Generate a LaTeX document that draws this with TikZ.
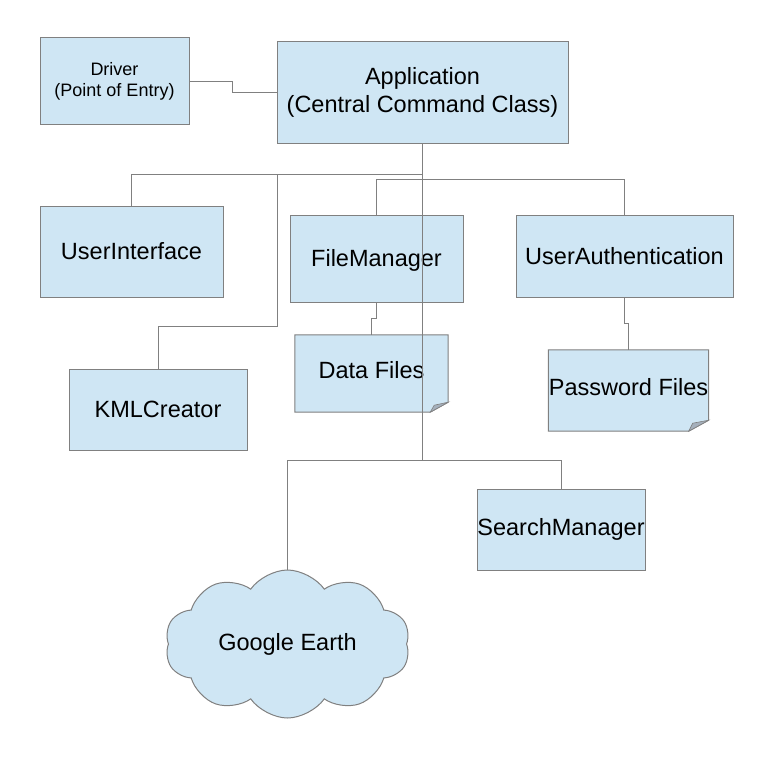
\documentclass[tikz,border=0pt]{standalone}
\usepackage{fontspec}
\setmainfont{Liberation Sans}
\usetikzlibrary{shapes.symbols,backgrounds}
\definecolor{boxfill}{RGB}{207,230,244}
\definecolor{boxline}{RGB}{128,128,128}
\definecolor{foldfill}{RGB}{165,176,188}
\tikzset{
  box/.style={draw=boxline, fill=boxfill, line width=1pt, inner sep=0pt, align=center,
    font=\fontsize{23.5pt}{28pt}\selectfont},
  notebox/.style={inner sep=0pt, align=center, font=\fontsize{23.5pt}{28pt}\selectfont},
  wire/.style={draw=boxline, line width=1pt},
  notepath/.style={draw=boxline, fill=boxfill, line width=1pt},
  foldpath/.style={draw=boxline, fill=foldfill, line width=0.6pt},
}
\begin{document}
\begin{tikzpicture}[x=1pt,y=-1pt]
\useasboundingbox (0,0) rectangle (768,768);

\node[box, minimum width=149pt, minimum height=86pt, font=\fontsize{18pt}{21pt}\selectfont] (driver) at (114.5,81) {Driver\\(Point of Entry)};
\node[box, minimum width=291pt, minimum height=101pt] (app) at (422.5,92.5) {Application\\(Central Command Class)};
\node[box, minimum width=183pt, minimum height=91pt] (ui) at (131.5,251.5) {UserInterface};
\node[box, minimum width=173pt, minimum height=87pt] (fm) at (376.5,258.5) {\raisebox{-2pt}[\height][\depth]{FileManager}};
\node[box, minimum width=217pt, minimum height=82pt] (ua) at (624.5,256) {UserAuthentication};
\node[box, minimum width=178pt, minimum height=81pt] (kml) at (158,409.5) {KMLCreator};
\node[notebox, minimum width=153pt, minimum height=77pt] (data) at (371.5,373.5) {\raisebox{3pt}[\height][\depth]{Data Files}};
\node[notebox, minimum width=160pt, minimum height=81pt] (pw) at (628.5,390.5) {\raisebox{3pt}[\height][\depth]{Password Files}};
\node[box, minimum width=168pt, minimum height=81pt] (sm) at (561,529.5) {SearchManager};
\node[box, cloud, cloud puffs=10, cloud puff arc=110, aspect=1.65, minimum width=245pt, minimum height=148pt] (cloud) at (287.5,644) {Google Earth};

\begin{scope}[on background layer]
  \fill[white] (0,0) rectangle (768,768);
  \path[notepath] (data.north west) -- (data.north east) -- ([shift={(0,-10)}]data.south east)
     -- ([shift={(-18,0)}]data.south east) -- (data.south west) -- cycle;
  \path[foldpath] ([shift={(0,-10)}]data.south east) -- ([shift={(-18,0)}]data.south east)
     -- ([shift={(-14,-7)}]data.south east) -- cycle;
  \path[notepath] (pw.north west) -- (pw.north east) -- ([shift={(0,-11)}]pw.south east)
     -- ([shift={(-20,0)}]pw.south east) -- (pw.south west) -- cycle;
  \path[foldpath] ([shift={(0,-11)}]pw.south east) -- ([shift={(-20,0)}]pw.south east)
     -- ([shift={(-16,-8)}]pw.south east) -- cycle;
\end{scope}

\coordinate (b1) at (422.5,174);
\coordinate (k1) at (277,174);
\coordinate (b2) at (422.5,179);
\coordinate (b3) at (422.5,460);

% driver to application
\draw[wire] (driver.east) -- ++(43,0) |- (app.west);
% main trunk
\draw[wire] (app.south) -- (b3);
\draw[wire] (b1) -| (ui.north);
\draw[wire] (k1) -- ++(0,152) -| (kml.north);
\draw[wire] (b2) -| (fm.north);
\draw[wire] (b2) -| (ua.north);
\draw[wire] (fm.south) -- ++(0,16) -| (data.north);
\draw[wire] (ua.south) -- ++(0,26) -| (pw.north);
\draw[wire] (b3) -| (sm.north);
\draw[wire] (b3) -| (cloud.north);
\end{tikzpicture}
\end{document}
